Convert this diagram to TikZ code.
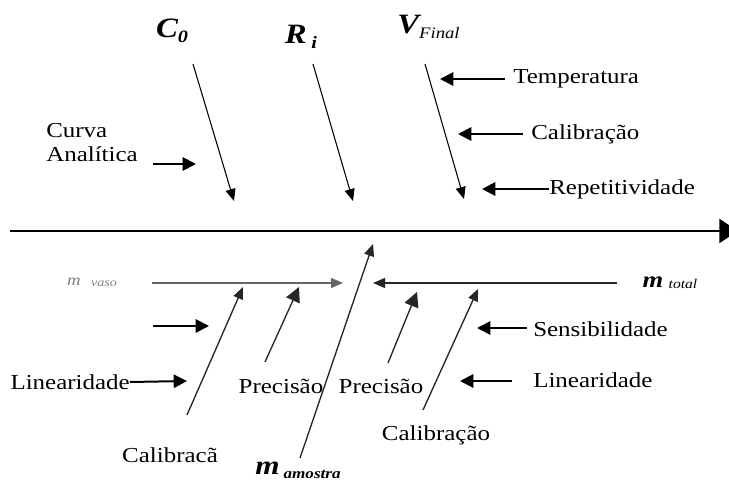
\documentclass[tikz,border=0pt]{standalone}
\usepackage{fontspec}
\setmainfont{Liberation Serif}[FakeStretch=1.17]
\usetikzlibrary{arrows.meta}

\begin{document}
\begin{tikzpicture}[x=0.75pt,y=-0.75pt,
        >={Triangle[length=9pt,width=7.5pt]},
        txt/.style={font=\fontsize{16}{18}\selectfont, inner sep=0pt},
        simb/.style={font=\fontsize{21}{23}\selectfont\bfseries\itshape, inner sep=0pt},
        ramo/.style={->, line width=0.8pt},
        fator/.style={->, line width=1.5pt, >={Triangle[length=10pt,width=10pt]}},
        sub/.style={->, line width=1pt, black!85}]
        \path[use as bounding box] (0,0) rectangle (729,481);
        \clip (0,0) rectangle (729,481);

        % eixo principal
        \coordinate (E0) at (10,231);
        \coordinate (E1) at (738,231);
        \draw[->, line width=1.6pt, >={Triangle[length=14pt,width=18pt]}] (E0) -- (E1);

        % ramos de cima
        \node[simb] (C0) at (172,31) {C\raisebox{-4pt}{\fontsize{13}{13}\selectfont 0}};
        \node[simb] (Ri) at (301,37) {R\,\raisebox{-4pt}{\fontsize{13}{13}\selectfont i}};
        \node[simb, anchor=west] (VF) at (397,27) {V\raisebox{-4pt}{\fontsize{12}{12}\selectfont\mdseries Final}};
        \coordinate (C0a) at (193,64);  \coordinate (C0b) at (234,201);
        \coordinate (Ria) at (313,64);  \coordinate (Rib) at (353,201);
        \coordinate (VFa) at (425,64);  \coordinate (VFb) at (464,199);
        \draw[ramo] (C0a) -- (C0b);
        \draw[ramo] (Ria) -- (Rib);
        \draw[ramo] (VFa) -- (VFb);

        \node[txt, anchor=west, align=left] (Curva) at (46,143) {Curva\\Analítica};
        \coordinate (CurvaB) at (196,164);
        \draw[fator] (153,164) -- (CurvaB);

        \node[txt, anchor=west] (Temp) at (513,79) {Temperatura};
        \node[txt, anchor=west] (Cal1) at (531,134) {Calibração};
        \node[txt, anchor=west] (Rep) at (549,189) {Repetitividade};
        \coordinate (TempB) at (440,79);
        \coordinate (Cal1B) at (458,134);
        \coordinate (RepB) at (482,189);
        \draw[fator] (505,79) -- (TempB);
        \draw[fator] (523,134) -- (Cal1B);
        \draw[fator] (Rep.west) -- (RepB);

        % ramos de baixo
        \node[font=\fontsize{12}{12}\selectfont\itshape, text=black!50, inner sep=0pt] (mv) at (92,282) {m\hspace{8pt}\raisebox{-1pt}{\fontsize{9}{9}\selectfont vaso}};
        \node[inner sep=0pt] (mt) at (670,283) {\fontsize{17}{17}\selectfont\bfseries\itshape m\hspace{4pt}\raisebox{-1pt}{\fontsize{10}{10}\selectfont\mdseries total}};
        \node[inner sep=0pt] (ma) at (298,470) {\fontsize{20}{20}\selectfont\bfseries\itshape m\hspace{3pt}\raisebox{-3pt}{\fontsize{11}{11}\selectfont amostra}};
        \coordinate (mvA) at (152,283); \coordinate (mvB) at (343,283);
        \coordinate (mtA) at (617,283); \coordinate (mtB) at (373,283);
        \coordinate (maA) at (300,458); \coordinate (maB) at (373,244);
        \draw[sub, black!60] (mvA) -- (mvB);
        \draw[sub] (mtA) -- (mtB);
        \draw[sub] (maA) -- (maB);

        \coordinate (F1B) at (209,326);
        \draw[fator] (153,326) -- (F1B);

        \node[txt, anchor=east] (Lin1) at (130,382) {Linearidade};
        \coordinate (Lin1B) at (187,381);
        \draw[fator] (Lin1.east) -- (Lin1B);

        \node[txt] (Cal2) at (170,455) {Calibracã};
        \coordinate (Cal2A) at (187,415); \coordinate (Cal2B) at (243,287);
        \draw[sub] (Cal2A) -- (Cal2B);

        \node[txt] (Pre1) at (281,386) {Precisão};
        \coordinate (Pre1A) at (265,362); \coordinate (Pre1B) at (299,287);
        \draw[sub, >={Triangle[length=11pt,width=11pt]}] (Pre1A) -- (Pre1B);

        \node[txt] (Pre2) at (381,386) {Precisão};
        \coordinate (Pre2A) at (388,363); \coordinate (Pre2B) at (417,292);
        \draw[sub, >={Triangle[length=11pt,width=11pt]}] (Pre2A) -- (Pre2B);

        \node[txt] (Cal3) at (436,435) {Calibração};
        \coordinate (Cal3A) at (423,410); \coordinate (Cal3B) at (478,289);
        \draw[sub] (Cal3A) -- (Cal3B);

        \node[txt, anchor=west] (Sens) at (533,329) {Sensibilidade};
        \node[txt, anchor=west] (Lin2) at (533,380) {Linearidade};
        \coordinate (SensB) at (477,328);
        \coordinate (Lin2B) at (460,381);
        \draw[fator] (527,328) -- (SensB);
        \draw[fator] (512,381) -- (Lin2B);
    \end{tikzpicture}
\end{document}
